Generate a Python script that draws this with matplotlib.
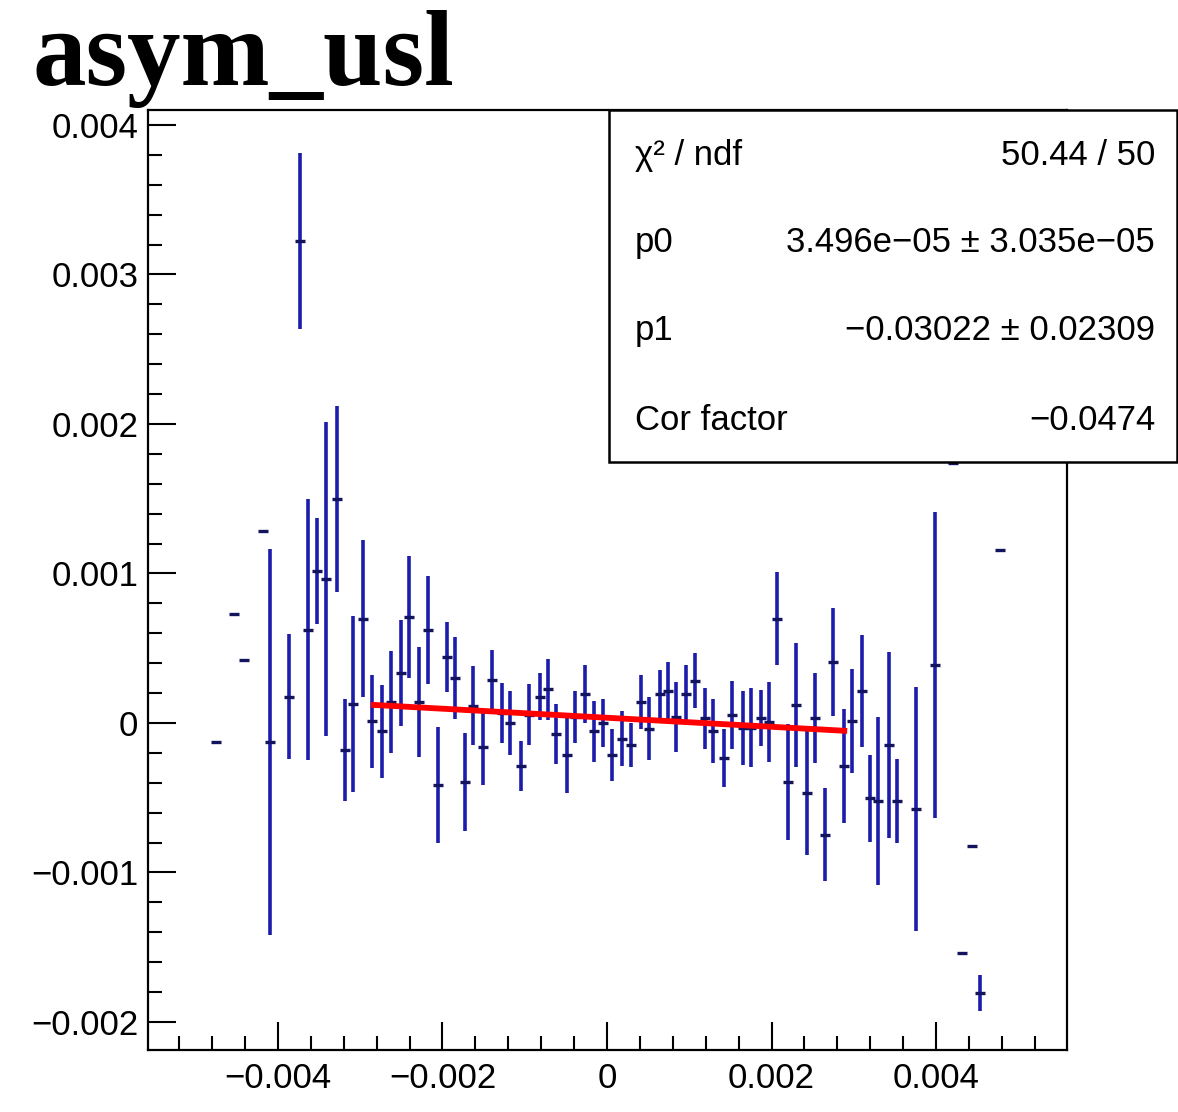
import numpy as np
import matplotlib
matplotlib.use("Agg")
import matplotlib.pyplot as plt
from matplotlib.patches import Rectangle
from matplotlib.ticker import FixedLocator, FixedFormatter, MultipleLocator

# ---------------- data (units of 1e-3) ----------------
x_e3 = [-4.754, -4.535, -4.413, -4.182, -4.097, -3.866, -3.733, -3.635, -3.526, -3.416,
        -3.283, -3.185, -3.088, -2.967, -2.857, -2.736, -2.626, -2.505, -2.407, -2.286,
        -2.176, -2.055, -1.945, -1.848, -1.726, -1.629, -1.508, -1.398, -1.277, -1.179,
        -1.046, -0.948, -0.815, -0.717, -0.620, -0.486, -0.389, -0.267, -0.158, -0.049,
        0.061, 0.182, 0.292, 0.413, 0.511, 0.644, 0.742, 0.839, 0.960, 1.070,
        1.191, 1.289, 1.422, 1.520, 1.653, 1.751, 1.872, 1.970, 2.067, 2.201,
        2.298, 2.432, 2.529, 2.650, 2.748, 2.881, 2.979, 3.100, 3.198, 3.295,
        3.429, 3.526, 3.757, 3.988, 4.207, 4.316, 4.438, 4.535, 4.778]
y_e3 = [-0.127, 0.729, 0.421, 1.284, -0.127, 0.174, 3.224, 0.622, 1.017, 0.963,
        1.498, -0.181, 0.127, 0.696, 0.013, -0.054, 0.140, 0.334, 0.709, 0.140,
        0.622, -0.415, 0.441, 0.301, -0.395, 0.114, -0.161, 0.288, 0.067, 0.000,
        -0.288, 0.054, 0.174, 0.227, -0.074, -0.214, 0.040, 0.194, -0.054, 0.000,
        -0.214, -0.107, -0.147, 0.140, -0.040, 0.194, 0.214, 0.040, 0.194, 0.281,
        0.033, -0.054, -0.234, 0.054, -0.033, -0.033, 0.033, 0.007, 0.696, -0.395,
        0.120, -0.468, 0.033, -0.749, 0.408, -0.288, 0.013, 0.214, -0.502, -0.522,
        -0.147, -0.522, -0.575, 0.388, 1.739, -1.539, -0.823, -1.806, 1.157]
yerr_e3 = [0.0, 0.0, 0.0, 0.0, 1.291, 0.418, 0.589, 0.873, 0.355, 1.047,
           0.622, 0.338, 0.589, 0.525, 0.311, 0.311, 0.341, 0.355, 0.408, 0.365,
           0.361, 0.391, 0.231, 0.274, 0.328, 0.264, 0.251, 0.197, 0.201, 0.211,
           0.167, 0.204, 0.157, 0.204, 0.201, 0.254, 0.177, 0.194, 0.204, 0.161,
           0.174, 0.184, 0.147, 0.181, 0.211, 0.161, 0.194, 0.231, 0.197, 0.184,
           0.204, 0.217, 0.194, 0.227, 0.247, 0.264, 0.187, 0.268, 0.311, 0.388,
           0.415, 0.415, 0.301, 0.311, 0.361, 0.381, 0.348, 0.375, 0.291, 0.559,
           0.622, 0.284, 0.816, 1.023, 0.0, 0.0, 0.0, 0.120, 0.0]
xerr_e3 = 0.06  # half bin width

# fit result (pol1)
p0 = 3.496e-05
p1 = -0.03022
fit_range = [-2.87e-3, 2.92e-3]

title = "asym_usl"
stats_labels = ["\u03c7\u00b2 / ndf", "p0", "p1", "Cor factor"]
stats_values = ["50.44 / 50", "3.496e\u221205 \u00b1 3.035e\u221205",
                "\u22120.03022 \u00b1 0.02309", "\u22120.0474"]

xticks = [-0.004, -0.002, 0.0, 0.002, 0.004]
xticklabels = ["\u22120.004", "\u22120.002", "0", "0.002", "0.004"]
yticks = [-0.002, -0.001, 0.0, 0.001, 0.002, 0.003, 0.004]
yticklabels = ["\u22120.002", "\u22120.001", "0", "0.001", "0.002", "0.003", "0.004"]

# ---------------- plotting ----------------
plt.rcParams['font.family'] = ['Liberation Sans', 'DejaVu Sans']

fig = plt.figure(figsize=(11.78, 11.12), dpi=100)
ax = fig.add_axes([0.1256, 0.0558, 0.7802, 0.8453])

x = np.asarray(x_e3) * 1e-3
y = np.asarray(y_e3) * 1e-3
yerr = np.asarray(yerr_e3) * 1e-3
xerr = xerr_e3 * 1e-3

ax.errorbar(x, y, yerr=yerr, fmt='none', ecolor='#1c1caa', elinewidth=2.6, capsize=0, zorder=3)
ax.errorbar(x, y, xerr=xerr, fmt='none', ecolor='#14145e', elinewidth=2.4, capsize=0, zorder=4)

xf = np.array(fit_range)
ax.plot(xf, p0 + p1 * xf, color='#ff0000', lw=4.2, solid_capstyle='butt', zorder=5)

ax.set_xlim(-5.581e-3, 5.593e-3)
ax.set_ylim(-2.187e-3, 4.100e-3)

ax.xaxis.set_major_locator(FixedLocator(xticks))
ax.xaxis.set_major_formatter(FixedFormatter(xticklabels))
ax.xaxis.set_minor_locator(MultipleLocator(0.0004))
ax.yaxis.set_major_locator(FixedLocator(yticks))
ax.yaxis.set_major_formatter(FixedFormatter(yticklabels))
ax.yaxis.set_minor_locator(MultipleLocator(0.0002))

ax.tick_params(axis='both', which='major', direction='in', length=20, width=1.5,
               labelsize=25, top=False, right=False)
ax.tick_params(axis='both', which='minor', direction='in', length=10, width=1.5,
               top=False, right=False)
ax.tick_params(axis='y', which='major', pad=7)
ax.tick_params(axis='x', which='major', pad=9)
for s in ax.spines.values():
    s.set_linewidth(1.6)

fig.text(0.028, 0.9236, title, fontsize=77, fontweight='bold',
         family=['Liberation Serif', 'DejaVu Serif'], ha='left', va='baseline')

# stats box
box = Rectangle((0.517, 0.5845), 0.482, 0.3166, transform=fig.transFigure,
                facecolor='white', edgecolor='black', lw=1.8, zorder=10)
fig.add_artist(box)
rows_y = [0.8606, 0.7815, 0.7032, 0.6223]
for lab, val, yy in zip(stats_labels, stats_values, rows_y):
    fig.text(0.539, yy, lab, fontsize=25, ha='left', va='center', zorder=11)
    fig.text(0.9805, yy, val, fontsize=25, ha='right', va='center', zorder=11)

fig.savefig("out.png", dpi=100)
